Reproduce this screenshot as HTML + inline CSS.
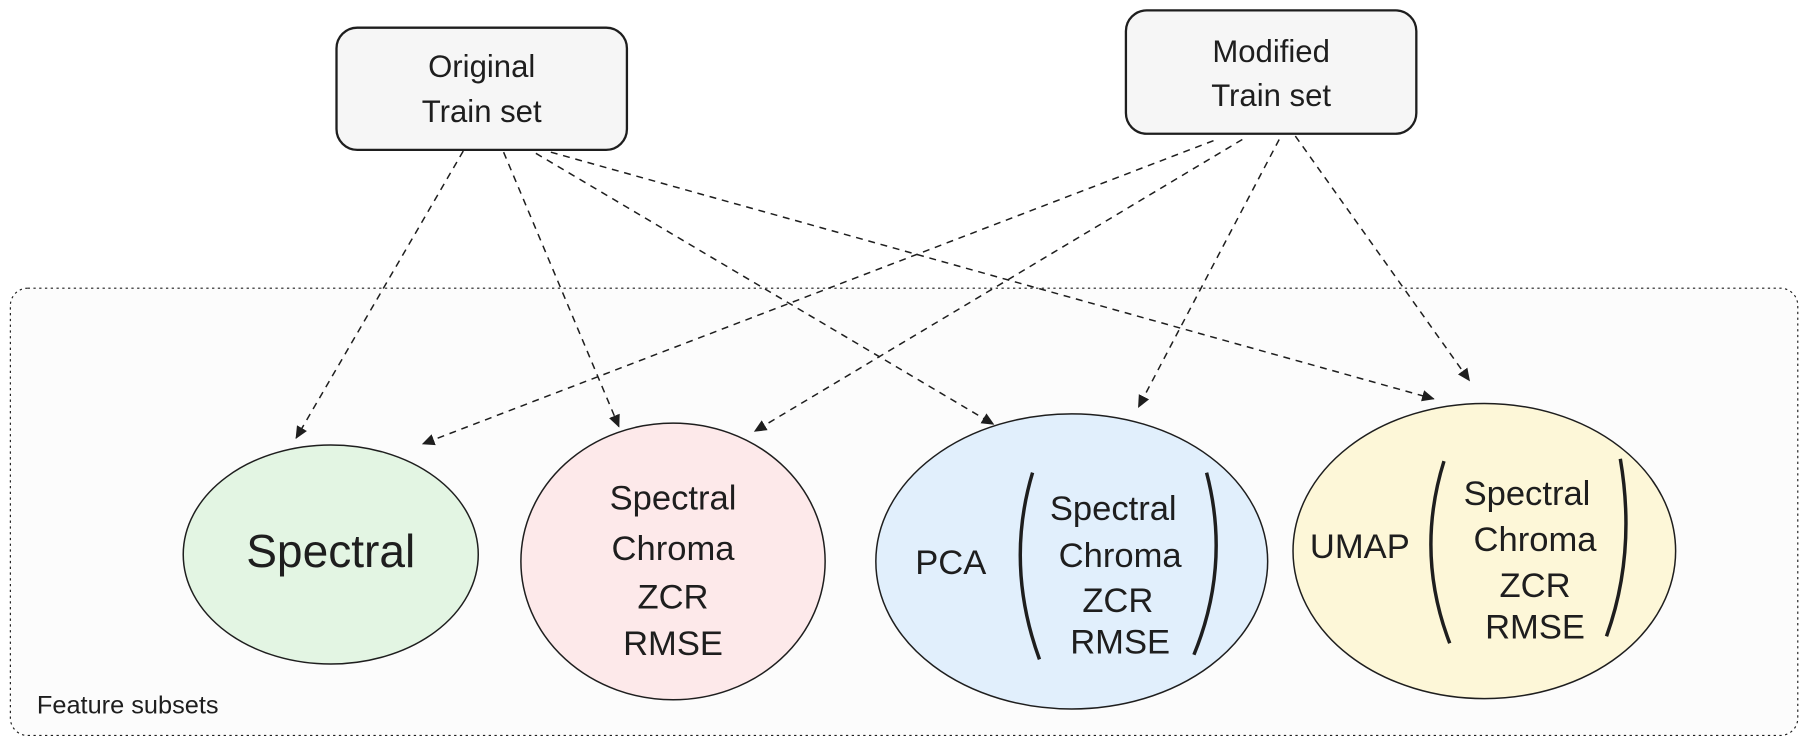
<!DOCTYPE html>
<html><head><meta charset="utf-8"><style>
html,body{margin:0;padding:0;background:#fff;}
svg{display:block;}
text{font-family:"Liberation Sans",sans-serif;fill:#1e1e1e;text-anchor:middle;}
</style></head><body>
<svg width="1807" height="747" viewBox="0 0 1568 648" preserveAspectRatio="none">
<defs>
<marker id="a" markerWidth="12" markerHeight="12" refX="10" refY="6" orient="auto" markerUnits="userSpaceOnUse">
<path d="M0,1 L11,6 L0,11 z" fill="#1e1e1e"/></marker>
</defs>
<rect x="9" y="250" width="1551" height="388" rx="15" fill="#fcfcfc" stroke="#1e1e1e" stroke-width="1" stroke-dasharray="2 3"/>
<rect x="292" y="24" width="252" height="106" rx="18" fill="#f6f6f6" stroke="#1e1e1e" stroke-width="2"/>
<text x="418" y="67" font-size="27">Original</text>
<text x="418" y="106" font-size="27">Train set</text>
<rect x="977" y="9" width="252" height="107" rx="18" fill="#f6f6f6" stroke="#1e1e1e" stroke-width="2"/>
<text x="1103" y="54" font-size="27">Modified</text>
<text x="1103" y="92" font-size="27">Train set</text>
<g stroke="#1e1e1e" stroke-width="1.3" stroke-dasharray="6 5" fill="none" marker-end="url(#a)">
<line x1="402" y1="131" x2="257" y2="380"/>
<line x1="437" y1="132" x2="537" y2="370"/>
<line x1="465" y1="133" x2="862" y2="368"/>
<line x1="478" y1="132" x2="1244" y2="346"/>
<line x1="1053" y1="122" x2="367" y2="385"/>
<line x1="1078" y1="121" x2="655" y2="374"/>
<line x1="1110" y1="121" x2="988" y2="353"/>
<line x1="1124" y1="118" x2="1275" y2="330"/>
</g>
<g stroke="#1e1e1e" stroke-width="1.3">
<ellipse cx="287" cy="481" rx="128" ry="95" fill="#e3f5e3"/>
<ellipse cx="584" cy="487" rx="132" ry="120" fill="#fde9ea"/>
<ellipse cx="930" cy="487" rx="170" ry="128" fill="#e1effc"/>
<ellipse cx="1288" cy="478" rx="166" ry="128" fill="#fdf7d8"/>
</g>
<text x="287" y="492" font-size="40">Spectral</text>
<g font-size="30">
<text x="584" y="442">Spectral</text>
<text x="584" y="486">Chroma</text>
<text x="584" y="528">ZCR</text>
<text x="584" y="568">RMSE</text>
<text x="825" y="498">PCA</text>
<text x="966" y="451">Spectral</text>
<text x="972" y="492">Chroma</text>
<text x="970" y="531">ZCR</text>
<text x="972" y="567">RMSE</text>
<text x="1180" y="484">UMAP</text>
<text x="1325" y="438">Spectral</text>
<text x="1332" y="478">Chroma</text>
<text x="1332" y="518">ZCR</text>
<text x="1332" y="554">RMSE</text>
</g>
<g stroke="#1e1e1e" stroke-width="3" fill="none">
<path d="M896,410 Q872,490 902,572"/>
<path d="M1047,410 Q1068,490 1036,568"/>
<path d="M1253,400 Q1228,480 1258,558"/>
<path d="M1406,398 Q1420,480 1394,552"/>
</g>
<text x="32" y="619" font-size="22" style="text-anchor:start">Feature subsets</text>
</svg>
</body></html>
